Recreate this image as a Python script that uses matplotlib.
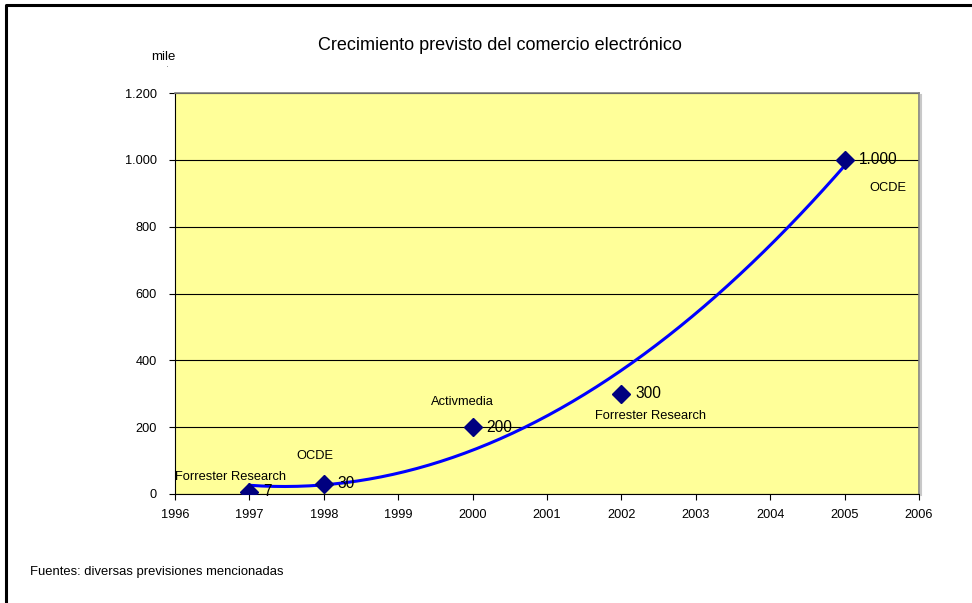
import numpy as np
import matplotlib
matplotlib.use('Agg')
import matplotlib.pyplot as plt
from matplotlib.lines import Line2D
from matplotlib.ticker import FuncFormatter

plt.rcParams['font.family'] = ['Liberation Sans', 'DejaVu Sans']

# Data
years = [1997, 1998, 2000, 2002, 2005]
values = [7, 30, 200, 300, 1000]
value_labels = ['7', '30', '200', '300', '1.000']
sources = ['Forrester Research', 'OCDE', 'Activmedia', 'Forrester Research', 'OCDE']

# pixel offsets for the source labels (relative to each point)
source_offsets = [(-19, 15), (-9, 28), (-10, 25), (29, -22), (43, -28)]

# Excel-style polynomial trendline (order 2) through the points
coef = np.polyfit(years, values, 2)
xt = np.linspace(years[0], years[-1], 200)
yt = np.polyval(coef, xt)

# ----------------------------------------------------------------------------
fig = plt.figure(figsize=(9.72, 6.03), dpi=100)
ax = fig.add_axes([175/972, 109/603, 744/972, 401/603])

ax.set_facecolor('#FFFF99')
ax.set_xlim(1996, 2006)
ax.set_ylim(0, 1200)
ax.set_xticks(range(1996, 2007))
ax.set_yticks(range(0, 1201, 200))
ax.yaxis.set_major_formatter(FuncFormatter(lambda v, p: f'{int(v):,}'.replace(',', '.')))
ax.grid(axis='y', color='black', linewidth=0.8)
ax.set_axisbelow(True)
ax.tick_params(axis='both', direction='out', length=4, width=0.8, labelsize=9.2)
ax.tick_params(axis='x', pad=7)
ax.tick_params(axis='y', pad=9)

for s in ['top', 'right']:
    ax.spines[s].set_color('#808080')
    ax.spines[s].set_linewidth(1.2)
for s in ['left', 'bottom']:
    ax.spines[s].set_color('black')
    ax.spines[s].set_linewidth(0.8)

ax.plot(xt, yt, color='#0000FF', linewidth=2.2, zorder=3)
ax.plot(years, values, linestyle='none', marker='D', markersize=9.5,
        color='#000080', zorder=4)

for x, y, vl, src, off in zip(years, values, value_labels, sources, source_offsets):
    ax.annotate(vl, (x, y), xytext=(14, 0), textcoords='offset pixels',
                ha='left', va='center', fontsize=11.2, zorder=5)
    ax.annotate(src, (x, y), xytext=off, textcoords='offset pixels',
                ha='center', va='center', fontsize=9.3, zorder=5)

# light shadow to the right of the plot area
fig.add_artist(Line2D([921/972, 921/972], [108/603, 508/603],
                      color='#C8C8C8', linewidth=1.5))

fig.text(500/972, 1 - 45/603, 'Crecimiento previsto del comercio electrónico',
         ha='center', va='center', fontsize=13)
fig.text(163/972, 1 - 57/603, 'mile', ha='center', va='center', fontsize=9.5)
fig.text(167/972, 1 - 68/603, '·', ha='center', va='center', fontsize=6, color='#606060')
fig.text(30/972, 1 - 572/603, 'Fuentes: diversas previsiones mencionadas',
         ha='left', va='center', fontsize=9.4)

# outer chart frame (left and top edges are visible)
fig.add_artist(Line2D([6/972, 6/972, 1.0], [0.0, 1 - 5/603, 1 - 5/603],
                      color='black', linewidth=2.2))

fig.savefig('out.png', dpi=100)
